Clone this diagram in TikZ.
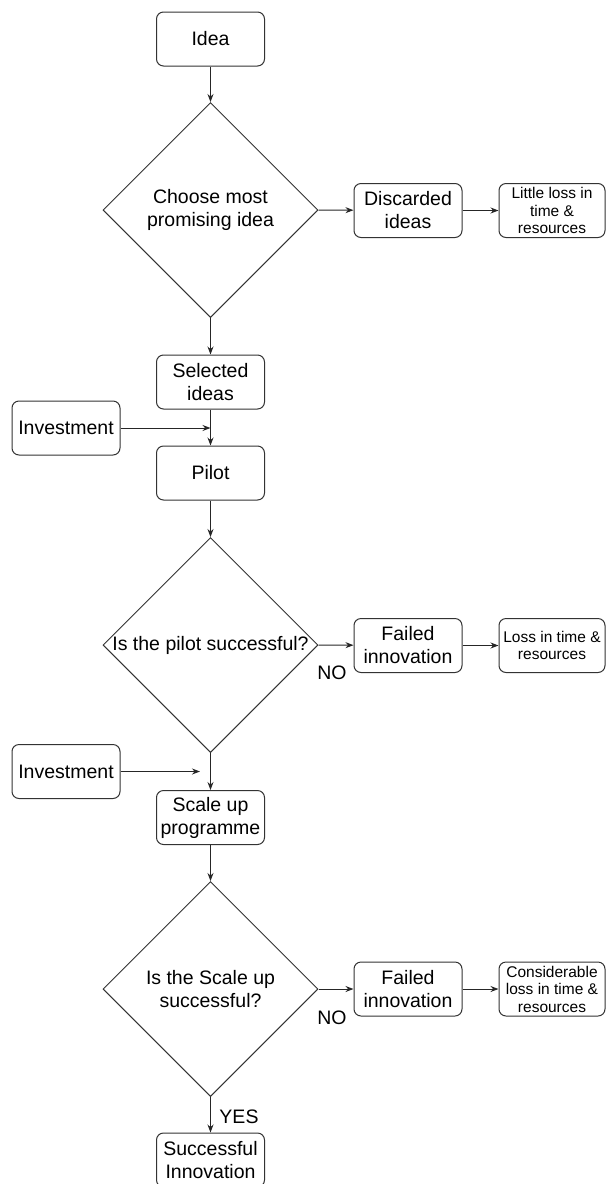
\documentclass[tikz,border=0pt]{standalone}
\usepackage{fontspec}
\setmainfont{Liberation Sans}
\usetikzlibrary{shapes.geometric, arrows.meta}

\begin{document}
\begin{tikzpicture}[
    x=1pt, y=-1pt,
    >={Stealth[length=8pt, width=6pt]},
    every node/.style={text=black},
    bigtext/.style={font=\fontsize{19.5}{23}\selectfont},
    stepbox/.style={draw=black!80, line width=1pt, rounded corners=7pt,
        minimum width=108pt, minimum height=54pt, inner sep=2pt,
        align=center, bigtext},
    notebox/.style={stepbox, minimum width=106pt,
        font=\fontsize{15.5}{17.5}\selectfont},
    decision/.style={draw=black!80, line width=1pt, diamond, aspect=1,
        minimum size=215pt, inner sep=0pt,
        label={[bigtext, align=center]center:#1}},
    flow/.style={->, line width=1pt, draw=black!85},
    answer/.style={bigtext},
]

% === Layout (pixels of the original) ===
\def\colX{210.5}    % main column
\def\sideX{408}     % failed / discarded column
\def\noteX{552}     % loss notes column
\def\feedX{66}      % investment column

\useasboundingbox (0,0) rectangle (606,1184);

% === Idea selection ===
\node[stepbox] (idea) at (\colX,39) {Idea};
\node[decision={Choose most\\promising idea}] (choose) at (\colX,210) {};
\node[stepbox] (discarded) at (\sideX,210.5) {Discarded\\ideas};
\node[notebox] (littleloss) at (\noteX,210.5) {Little loss in\\time \&\\resources};
\node[stepbox] (selected) at (\colX,382) {Selected\\ideas};

% === Pilot ===
\node[stepbox] (invest1) at (\feedX,428) {Investment};
\node[stepbox] (pilot) at (\colX,473) {Pilot};
\node[decision={Is the pilot successful?}] (pilotq) at (\colX,645) {};
\node[stepbox] (failed1) at (\sideX,645.5) {Failed\\innovation};
\node[notebox] (loss1) at (\noteX,645.5) {Loss in time \&\\resources};
\node[answer] (no1) at (332,673) {NO};

% === Scale up ===
\node[stepbox] (invest2) at (\feedX,771.5) {Investment};
\node[stepbox] (scaleup) at (\colX,817.5) {Scale up\\programme};
\node[decision={Is the Scale up\\successful?}] (scaleq) at (\colX,989) {};
\node[stepbox] (failed2) at (\sideX,989) {Failed\\innovation};
\node[notebox] (loss2) at (\noteX,989) {Considerable\\loss in time \&\\resources};
\node[answer] (no2) at (332,1018) {NO};
\node[answer] (yes) at (239,1117) {YES};
\node[stepbox] (success) at (\colX,1160) {Successful\\Innovation};

% === Connectors ===
\draw[flow] (idea) -- (choose.north);
\draw[flow] (choose.east) -- (discarded);
\draw[flow] (discarded) -- (littleloss);
\draw[flow] (choose.south) -- (selected);
\draw[flow] (selected) -- (pilot);
\draw[flow] (invest1.east) -- (selected.south |- invest1.east);
\draw[flow] (pilot) -- (pilotq.north);
\draw[flow] (pilotq.east) -- (failed1);
\draw[flow] (failed1) -- (loss1);
\draw[flow] (pilotq.south) -- (scaleup);
\coordinate (feed2) at (200,771.5);
\draw[flow] (invest2.east) -- (feed2);
\draw[flow] (scaleup) -- (scaleq.north);
\draw[flow] (scaleq.east) -- (failed2);
\draw[flow] (failed2) -- (loss2);
\draw[flow] (scaleq.south) -- (success);

\end{tikzpicture}
\end{document}
